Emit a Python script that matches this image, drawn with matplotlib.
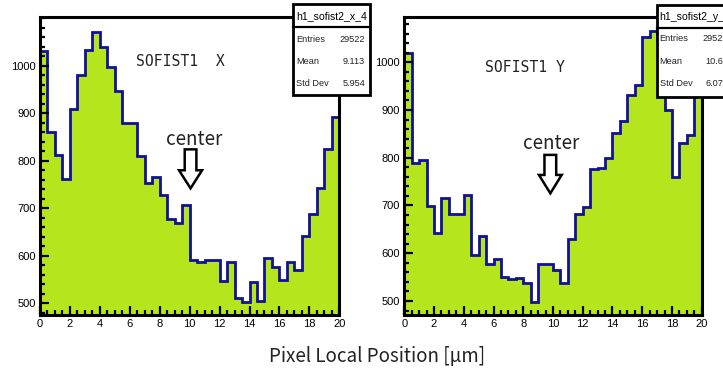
import numpy as np
import matplotlib
matplotlib.use("Agg")
import matplotlib.pyplot as plt
from matplotlib.patches import Rectangle, FancyArrow
from matplotlib.ticker import MultipleLocator

# ---------------- data ----------------
bin_edges = np.arange(0, 20.5, 0.5)
counts_x = [1031, 860, 812, 761, 909, 980, 1033, 1070, 1040, 998,
            947, 879, 879, 809, 753, 766, 728, 677, 669, 707,
            591, 586, 591, 591, 548, 588, 511, 502, 545, 505,
            595, 577, 549, 586, 570, 642, 687, 742, 825, 893]
counts_y = [1020, 788, 795, 699, 642, 715, 683, 683, 721, 596,
            637, 577, 587, 551, 545, 549, 537, 498, 578, 578,
            564, 537, 629, 683, 697, 776, 778, 799, 851, 876,
            931, 952, 1054, 1066, 1045, 901, 760, 830, 848, 990]
panel_titles = ["SOFIST1  X", "SOFIST1 Y"]
hist_names = ["h1_sofist2_x_4", "h1_sofist2_y_4"]
stat_labels = ["Entries", "Mean", "Std Dev"]
stat_values_x = ["29522", "9.113", "5.954"]
stat_values_y = ["29522", "10.64", "6.071"]
xlabel = "Pixel Local Position [μm]"

FILL = "#b5e61d"
LINE = "#10109a"

W, H = 723, 370
fig = plt.figure(figsize=(W / 100, H / 100), dpi=100)


def fx(px):
    return px / W


def fy(py):
    return 1 - py / H


def make_axes(x0, x1, y0, y1, ylim, counts, title, tpos, cpos, arrow):
    ax = fig.add_axes([fx(x0), fy(y1), fx(x1 - x0), (y1 - y0) / H])
    ax.stairs(counts, bin_edges, baseline=ylim[0], fill=True,
              color=FILL, zorder=1)
    ax.stairs(counts, bin_edges, baseline=ylim[0], fill=False,
              color=LINE, lw=2.0, zorder=1.5)
    ax.set_xlim(0, 20)
    ax.set_ylim(*ylim)
    for s in ax.spines.values():
        s.set_linewidth(2.2)
        s.set_color("black")
        s.set_zorder(3)
    ax.xaxis.set_major_locator(MultipleLocator(2))
    ax.xaxis.set_minor_locator(MultipleLocator(0.5))
    ax.yaxis.set_major_locator(MultipleLocator(100))
    ax.yaxis.set_minor_locator(MultipleLocator(20))
    ax.tick_params(which="both", direction="in", top=False, right=False,
                   width=1.6, color="black")
    ax.tick_params(which="major", length=6.5, labelsize=8, pad=3)
    ax.tick_params(which="minor", length=3.5)
    for lab in ax.get_xticklabels() + ax.get_yticklabels():
        lab.set_fontfamily("Liberation Sans")
    ax.set_yticks([500, 600, 700, 800, 900, 1000])
    ax.yaxis.set_minor_locator(MultipleLocator(20))
    ax.text(tpos[0], tpos[1], title, transform=ax.transData,
            family="DejaVu Sans Mono", fontsize=10.6, ha="left", va="center",
            color="#222222")
    ax.text(cpos[0], cpos[1], "center", transform=ax.transData,
            family=["Noto Sans CJK JP", "DejaVu Sans"], fontsize=13.5,
            ha="center", va="baseline", color="#222222")
    xa, ytop, ytip, yhead, sw, hw = arrow
    ax.add_patch(FancyArrow(xa, ytop, 0, ytip - ytop, width=sw,
                            head_width=hw, head_length=yhead - ytip,
                            length_includes_head=True, facecolor="white",
                            edgecolor="black", lw=1.8, zorder=4))
    return ax


ax1 = make_axes(40, 339.3, 17, 315, (475.5, 1102.5), counts_x,
                panel_titles[0], (6.4, 1008), (10.27, 833),
                (10.06, 824, 742, 780, 0.78, 1.54))
ax2 = make_axes(404.3, 701.7, 17, 315, (470.6, 1094.9), counts_y,
                panel_titles[1], (5.4, 990), (9.87, 818),
                (9.82, 806, 725.5, 764, 0.79, 1.53))


def stat_box(x0, x1, y0, y1, ysep, name, values, rows_y):
    fig.add_artist(Rectangle((fx(x0), fy(y1)), fx(x1 - x0), (y1 - y0) / H,
                             transform=fig.transFigure, facecolor="white",
                             edgecolor="black", lw=2.0, zorder=5))
    fig.add_artist(plt.Line2D([fx(x0), fx(x1)], [fy(ysep), fy(ysep)],
                              transform=fig.transFigure, color="black",
                              lw=1.6, zorder=6))
    fig.text(fx((x0 + x1) / 2), fy((y0 + ysep) / 2 + 0.5), name,
             family="Liberation Sans", fontsize=7.6, ha="center",
             va="center", zorder=7)
    for lab, val, yy in zip(stat_labels, values, rows_y):
        fig.text(fx(x0 + 3), fy(yy), lab, family="Liberation Sans",
                 fontsize=6.6, ha="left", va="center", zorder=7,
                 color="#222222")
        fig.text(fx(x1 - 5), fy(yy), val, family="Liberation Sans",
                 fontsize=6.6, ha="right", va="center", zorder=7,
                 color="#222222")


stat_box(293.3, 370, 4.5, 95, 26.5, hist_names[0], stat_values_x,
         [39.3, 62, 83.3])
stat_box(656.7, 733.4, 5, 96.7, 28.3, hist_names[1], stat_values_y,
         [38.3, 61.7, 83.3])

fig.text(fx(377.5), fy(357), xlabel,
         family=["Noto Sans CJK JP", "DejaVu Sans"], fontsize=13.5,
         ha="center", va="center", color="#222222")

fig.savefig("out.png", dpi=100)
